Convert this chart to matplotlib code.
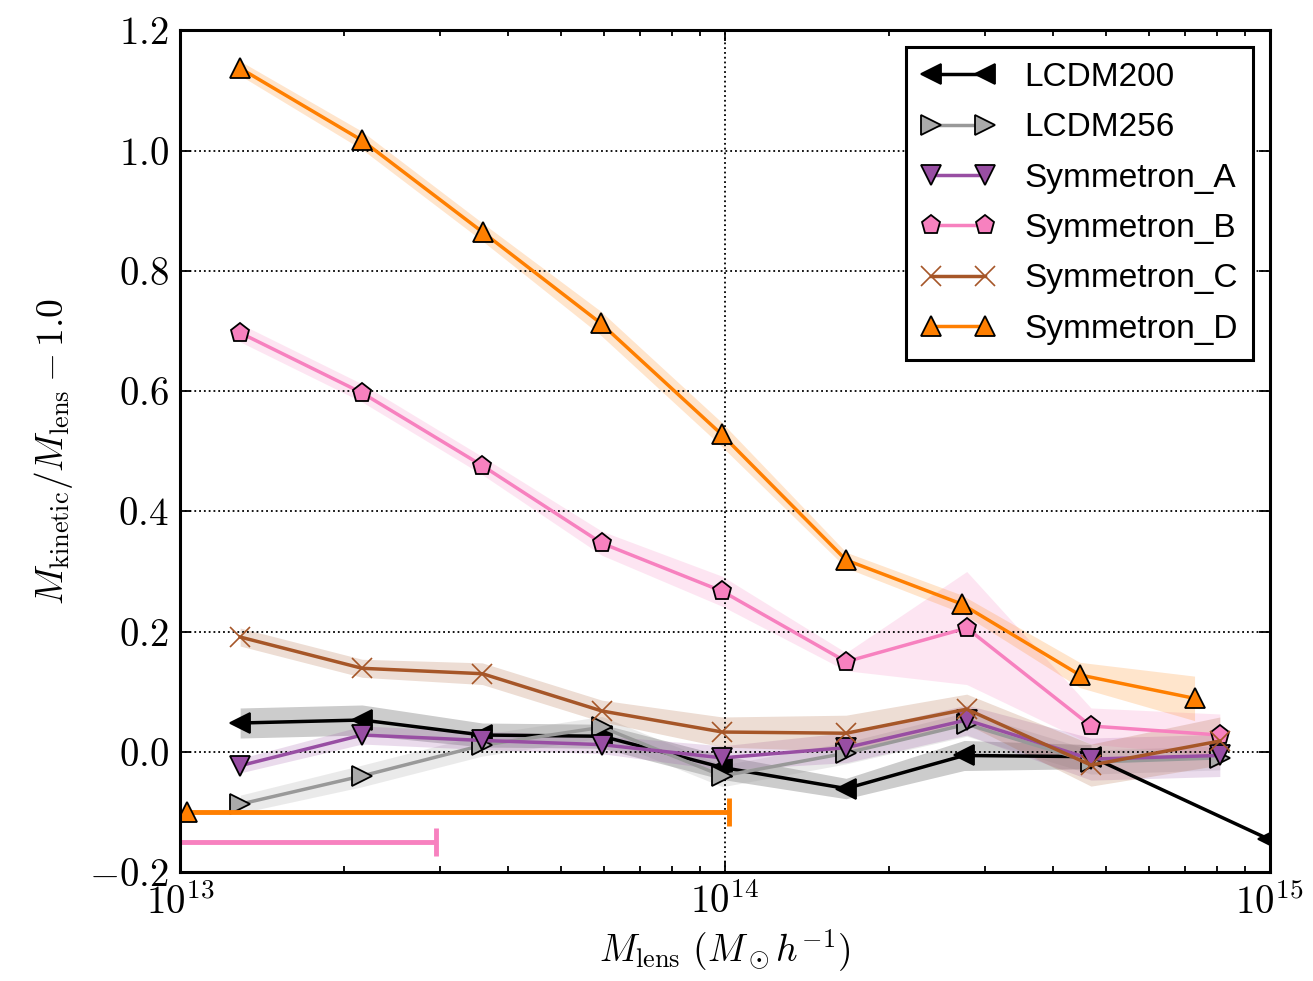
import numpy as np
import matplotlib
matplotlib.use("Agg")
import matplotlib.pyplot as plt
from matplotlib.ticker import FuncFormatter, LogLocator

plt.rcParams['mathtext.fontset'] = 'cm'
plt.rcParams['font.family'] = ['Liberation Sans', 'DejaVu Sans']

# lens mass bins (M_sun/h)
m_common = [1.29e13, 2.16e13, 3.59e13, 5.95e13, 9.9e13, 1.67e14, 2.78e14, 4.7e14, 8.1e14]
m_lcdm200 = [1.29e13, 2.16e13, 3.59e13, 5.95e13, 9.9e13, 1.67e14, 2.75e14, 4.7e14, 9.95e14]
m_sym_d = [1.29e13, 2.16e13, 3.60e13, 5.92e13, 9.87e13, 1.67e14, 2.72e14, 4.48e14, 7.28e14]

# M_kinetic/M_lens - 1 and half-width of the shaded band
lcdm200 = [0.048, 0.053, 0.028, 0.026, -0.026, -0.061, -0.006, -0.008, -0.145]
lcdm200_err = [0.025, 0.025, 0.02, 0.02, 0.02, 0.017, 0.025, 0.02, np.nan]
lcdm256 = [-0.087, -0.040, 0.011, 0.041, -0.040, -0.002, 0.046, -0.017, -0.010]
lcdm256_err = [0.015, 0.018, 0.018, 0.018, 0.018, 0.018, 0.02, 0.02, 0.02]
sym_a = [-0.023, 0.028, 0.019, 0.012, -0.010, 0.007, 0.053, -0.012, -0.006]
sym_a_err = [0.012, 0.015, 0.015, 0.015, 0.02, 0.025, 0.025, 0.035, 0.035]
sym_b = [0.697, 0.597, 0.476, 0.347, 0.267, 0.150, 0.206, 0.043, 0.028]
sym_b_err = [0.015, 0.015, 0.015, 0.02, 0.025, 0.015, 0.094, 0.03, 0.035]
sym_c = [0.191, 0.139, 0.130, 0.068, 0.033, 0.031, 0.071, -0.022, 0.018]
sym_c_err = [0.015, 0.015, 0.018, 0.018, 0.025, 0.03, 0.025, 0.035, 0.04]
sym_d = [1.137, 1.017, 0.864, 0.713, 0.528, 0.319, 0.246, 0.128, 0.089]
sym_d_err = [0.012, 0.015, 0.015, 0.02, 0.02, 0.013, 0.015, 0.021, 0.037]

# horizontal range bars at the bottom
bar_d = (1.03e13, -0.10, 1.02e14)   # centre, y, right end
bar_b = (8.0e12, -0.15, 2.95e13)

fig = plt.figure(figsize=(13.13, 9.81), dpi=100)
ax = fig.add_axes([0.137, 0.111, 0.830, 0.858])

series = [
    ("LCDM200", m_lcdm200, lcdm200, lcdm200_err, 'k', '<', 'k'),
    ("LCDM256", m_common, lcdm256, lcdm256_err, '#999999', '>', '#aaaaaa'),
    ("Symmetron_A", m_common, sym_a, sym_a_err, '#984ea3', 'v', '#984ea3'),
    ("Symmetron_B", m_common, sym_b, sym_b_err, '#f781bf', 'p', '#f781bf'),
    ("Symmetron_C", m_common, sym_c, sym_c_err, '#a65628', 'x', '#a65628'),
    ("Symmetron_D", m_sym_d, sym_d, sym_d_err, '#ff7f00', '^', '#ff7f00'),
]

for name, m, y, e, col, mk, fc in series:
    m = np.array(m)
    y = np.array(y)
    e = np.array(e)
    ax.fill_between(m, y - e, y + e, color=col, alpha=0.2, lw=0)
    if mk == 'x':
        ax.plot(m, y, color=col, lw=2.5, marker='x', ms=14, mew=1.2,
                mec=col, label=name)
    else:
        ax.plot(m, y, color=col, lw=2.5, marker=mk, ms=14, mfc=fc,
                mec='k', mew=1.3, label=name)

# range bars: bar with a cap, marker drawn on its own
for (xc, yc, xr), col, mk in [(bar_d, '#ff7f00', '^'), (bar_b, '#f781bf', 'p')]:
    ax.errorbar([xc], [yc], xerr=[[xc * 0.5], [xr - xc]], fmt='none',
                ecolor=col, elinewidth=3.5, capsize=10, capthick=3.5)
    ax.plot([xc], [yc], marker=mk, ms=14, mfc=col, mec='k', mew=1.3, ls='none')

ax.set_xscale('log')
ax.set_xlim(1e13, 1e15)
ax.set_ylim(-0.2, 1.2)
ax.set_yticks(np.arange(-0.2, 1.21, 0.2))
ax.xaxis.set_major_locator(LogLocator(base=10, numticks=10))
ax.xaxis.set_minor_locator(LogLocator(base=10, subs=np.arange(2, 10), numticks=20))
ax.xaxis.set_major_formatter(FuncFormatter(lambda v, p: r'$10^{%d}$' % round(np.log10(v))))
ax.yaxis.set_major_formatter(FuncFormatter(lambda v, p: r'$%.1f$' % v))

ax.tick_params(which='both', direction='in', top=True, right=True, labelsize=28, width=1.3)
ax.tick_params(which='major', length=8, pad=8)
ax.tick_params(which='minor', length=4)
for s in ax.spines.values():
    s.set_linewidth(2.2)

ax.grid(True, which='major', color='k', linestyle=':', linewidth=1.3)

ax.set_xlabel(r'$M_{\rm lens}\ (M_\odot h^{-1})$', fontsize=27, labelpad=4)
ax.set_ylabel(r'$M_{\rm kinetic}/M_{\rm lens}-1.0$', fontsize=27, labelpad=10)

leg = ax.legend(loc='upper right', numpoints=2, fontsize=24, fancybox=False,
                framealpha=1, edgecolor='k', labelspacing=0.58, handlelength=2.2,
                handletextpad=0.9, borderpad=0.45, borderaxespad=0.5)
leg.get_frame().set_linewidth(2.2)

fig.savefig('out.png', dpi=100)
